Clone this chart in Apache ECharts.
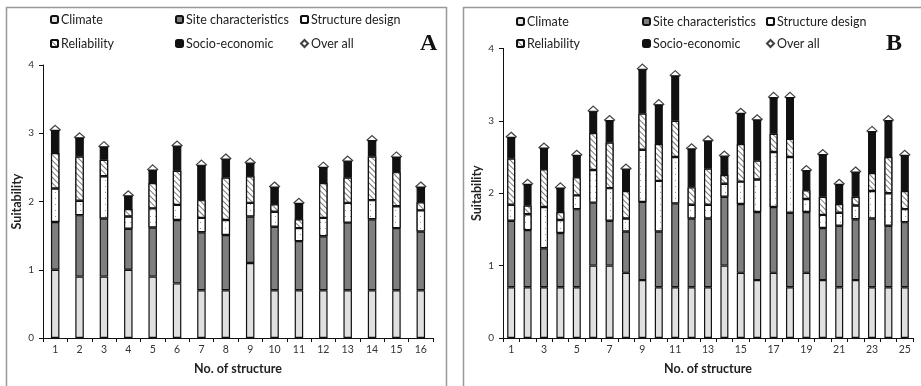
<!DOCTYPE html>
<html><head><meta charset="utf-8">
<script src="https://cdn.jsdelivr.net/npm/echarts@6/dist/echarts.min.js"></script>
<style>html,body{margin:0;padding:0;background:#fff}#c{width:921px;height:386px}</style>
</head><body><div id="c"></div>
<script>
const categoriesA = ['1','2','3','4','5','6','7','8','9','10','11','12','13','14','15','16'];
const climateA = [1.0,0.9,0.9,1.0,0.9,0.8,0.7,0.7,1.1,0.7,0.7,0.7,0.7,0.7,0.7,0.7];
const siteA = [0.70,0.90,0.85,0.60,0.72,0.93,0.85,0.81,0.68,0.93,0.72,0.79,0.99,1.04,0.91,0.86];
const structA = [0.49,0.21,0.62,0.18,0.28,0.22,0.21,0.22,0.20,0.22,0.19,0.27,0.29,0.28,0.32,0.31];
const relA = [0.52,0.65,0.24,0.11,0.37,0.50,0.26,0.62,0.39,0.11,0.13,0.51,0.37,0.64,0.50,0.12];
const socioA = [0.34,0.28,0.20,0.20,0.20,0.37,0.52,0.28,0.20,0.26,0.24,0.24,0.25,0.24,0.23,0.23];
const overallA = [3.05,2.94,2.81,2.09,2.47,2.82,2.54,2.63,2.57,2.22,1.98,2.51,2.60,2.90,2.66,2.22];

const categoriesB = ['1','2','3','4','5','6','7','8','9','10','11','12','13','14','15','16','17','18','19','20','21','22','23','24','25'];
const climateB = [0.7,0.7,0.7,0.7,0.7,1.0,1.0,0.9,0.8,0.7,0.7,0.7,0.7,1.0,0.9,0.8,0.9,0.7,0.9,0.8,0.7,0.8,0.7,0.7,0.7];
const siteB = [0.92,0.79,0.54,0.75,1.08,0.87,0.62,0.57,1.08,0.77,1.16,0.95,0.95,0.95,0.95,0.94,0.91,1.03,0.84,0.72,0.85,0.84,0.95,0.85,0.90];
const structB = [0.22,0.22,0.57,0.18,0.19,0.45,0.45,0.18,0.72,0.70,0.64,0.19,0.19,0.18,0.31,0.45,0.76,0.77,0.18,0.18,0.18,0.19,0.38,0.45,0.18];
const relB = [0.64,0.12,0.52,0.11,0.25,0.51,0.63,0.38,0.50,0.51,0.50,0.24,0.50,0.12,0.52,0.26,0.25,0.25,0.12,0.25,0.12,0.12,0.25,0.50,0.25];
const socioB = [0.30,0.30,0.30,0.34,0.31,0.31,0.31,0.31,0.62,0.55,0.63,0.54,0.39,0.27,0.43,0.57,0.51,0.58,0.28,0.59,0.28,0.35,0.58,0.51,0.50];
const overallB = [2.78,2.13,2.63,2.08,2.53,3.14,3.01,2.34,3.72,3.23,3.63,2.62,2.73,2.52,3.11,3.02,3.33,3.33,2.32,2.54,2.13,2.30,2.86,3.01,2.53];

const yTicks = [0,1,2,3,4];

const FONT = 'Lato';
const styles = {
  'Climate': {color:'#e0e0e0', borderColor:'#111', borderWidth:1.2},
  'Site characteristics': {color:'#7f7f7f', borderColor:'#111', borderWidth:1.2},
  'Structure design': {color:'#ffffff', borderColor:'#111', borderWidth:1.2,
     decal:{symbol:'rect', symbolSize:1, dashArrayX:[1,4], dashArrayY:[1,5], color:'#9a9a9a', backgroundColor:'#ffffff'}},
  'Reliability': {color:'#ffffff', borderColor:'#111', borderWidth:1.2,
     decal:{symbol:'rect', symbolSize:1, dashArrayX:[1,0], dashArrayY:[1,2.5], rotation:Math.PI/4, color:'#7a7a7a', backgroundColor:'#ffffff'}},
  'Socio-economic': {color:'#111111', borderColor:'#111', borderWidth:1.2}
};

function panelSeries(idx, barW, data) {
  const names = ['Climate','Site characteristics','Structure design','Reliability','Socio-economic'];
  const out = names.map((n,i) => ({
    name:n, type:'bar', stack:'s'+idx, xAxisIndex:idx, yAxisIndex:idx,
    barWidth:barW, itemStyle:styles[n], data:data[i], z:3, emphasis:{disabled:true}
  }));
  out.push({name:'Over all', type:'scatter', xAxisIndex:idx, yAxisIndex:idx,
    symbol:'diamond', symbolSize:[10,9], z:1,
    itemStyle:{color:'#fff', borderColor:'#111', borderWidth:1.2},
    data:data[5], emphasis:{disabled:true}});
  return out;
}

function legends(cols, rows) {
  const items = [['Climate','Site characteristics','Structure design'],['Reliability','Socio-economic','Over all']];
  const arr = [];
  for (let r=0;r<2;r++) for (let c=0;c<3;c++) {
    arr.push({data:[items[r][c]], left:cols[c], top:rows[r], padding:0, itemWidth:7, itemHeight:7, itemGap:0,
      selectedMode:false, textStyle:{fontFamily:FONT, fontSize:12.5, color:'#222', padding:[0,0,0,-2]}});
  }
  return arr;
}

function yAxis(idx) {
  return {type:'value', gridIndex:idx, min:0, max:4, interval:1, name:'Suitability', nameLocation:'middle', nameGap:20,
    nameTextStyle:{fontFamily:FONT, fontSize:12.5, fontWeight:'bold', color:'#222'},
    axisLine:{show:true, lineStyle:{color:'#111', width:1}}, axisTick:{show:true, length:4, lineStyle:{color:'#111'}},
    axisLabel:{fontFamily:FONT, fontSize:10, color:'#333', margin:9}, splitLine:{show:false}};
}
function xAxis(idx, cats, interval) {
  return {type:'category', gridIndex:idx, data:cats, name:'No. of structure', nameLocation:'middle', nameGap:24,
    nameTextStyle:{fontFamily:FONT, fontSize:12.5, fontWeight:'bold', color:'#222'},
    axisLine:{lineStyle:{color:'#111', width:1}}, axisTick:{show:true, length:4, interval:0, lineStyle:{color:'#111'}},
    axisLabel:{fontFamily:FONT, fontSize:10.5, color:'#333', margin:6, interval:interval}};
}

const chart = echarts.init(document.getElementById('c'), null, {renderer:'canvas'});
chart.setOption({
  animation:false,
  backgroundColor:'#fff',
  grid:[{left:43, top:65, width:390, height:273}, {left:503, top:48.4, width:410, height:289.6}],
  xAxis:[xAxis(0, categoriesA, 0), xAxis(1, categoriesB, 1)],
  yAxis:[yAxis(0), yAxis(1)],
  legend:[].concat(legends([50,175,300],[13,37]), legends([516,642,766],[15,37])),
  graphic:[
    {type:'rect', shape:{x:6.5, y:7.5, width:440, height:420}, style:{fill:null, stroke:'#999', lineWidth:1.5}, silent:true, z:-10},
    {type:'rect', shape:{x:463.5, y:7.5, width:480, height:420}, style:{fill:null, stroke:'#999', lineWidth:1.5}, silent:true, z:-10},
    {type:'text', left:420, top:32, style:{text:'A', font:'bold 24px "Liberation Serif"', fill:'#111'}},
    {type:'text', left:886, top:32, style:{text:'B', font:'bold 24px "Liberation Serif"', fill:'#111'}}
  ],
  series:[].concat(
    panelSeries(0, 8.5, [climateA, siteA, structA, relA, socioA, overallA]),
    panelSeries(1, 8, [climateB, siteB, structB, relB, socioB, overallB])
  )
});
</script></body></html>
